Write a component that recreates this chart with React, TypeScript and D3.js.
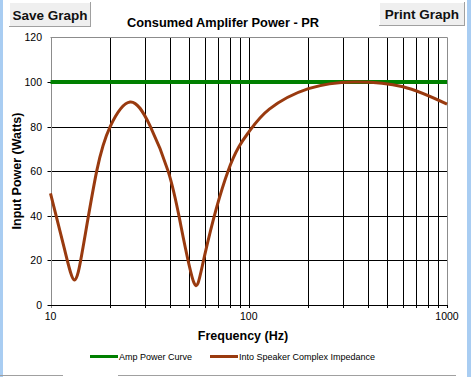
import React from "react";
import * as d3 from "d3";

const TITLE = "Consumed Amplifer Power - PR";
const X_LABEL = "Frequency (Hz)";
const Y_LABEL = "Input Power (Watts)";
const X_TICKS = [10, 100, 1000];
const X_GRID = [20, 30, 40, 50, 60, 70, 80, 90, 100, 200, 300, 400, 500, 600, 700, 800, 900];
const Y_TICKS = [0, 20, 40, 60, 80, 100, 120];

const AMP_FREQ = [10, 1000];
const AMP_POWER = [100, 100];

const SPK_FREQ = [10, 11.8, 13.2, 14.6, 17.1, 20, 25.2, 31.7, 39.2, 45, 52.9, 60, 78.6, 100, 127, 200, 340, 600, 1000];
const SPK_POWER = [50, 24.6, 11.2, 26, 60, 80, 91, 80.5, 60, 37.6, 10, 22.5, 60, 77.5, 87.8, 97, 100, 97.8, 90];

const LEGEND = ["Amp Power Curve", "Into Speaker Complex Impedance"];
const COLORS = ["#008000", "#993a0f"];

export default function App() {
  const W = 471, H = 377;
  const x = d3.scaleLog().domain([10, 1000]).range([50.5, 447]);
  const y = d3.scaleLinear().domain([0, 120]).range([305, 37.3]);
  const line = d3
    .line<[number, number]>()
    .x((d) => x(d[0]))
    .y((d) => y(d[1]))
    .curve(d3.curveNatural);
  const ampData = AMP_FREQ.map((f, i) => [f, AMP_POWER[i]] as [number, number]);
  const spkData = SPK_FREQ.map((f, i) => [f, SPK_POWER[i]] as [number, number]);
  const font = "Arial, 'Liberation Sans', sans-serif";
  const x0 = x(10), x1 = x(1000), yTop = y(120), yBot = y(0);

  const Button = ({ bx, by, bw, bh, label }: any) => (
    <g>
      <rect x={bx} y={by} width={bw} height={bh} fill="#efefef" />
      <line x1={bx} y1={by + 0.5} x2={bx + bw} y2={by + 0.5} stroke="#ffffff" />
      <line x1={bx + 0.5} y1={by} x2={bx + 0.5} y2={by + bh} stroke="#ffffff" />
      <line x1={bx} y1={by + bh - 0.5} x2={bx + bw} y2={by + bh - 0.5} stroke="#a0a0a0" />
      <line x1={bx + bw - 0.5} y1={by} x2={bx + bw - 0.5} y2={by + bh} stroke="#a0a0a0" />
      <text x={bx + bw / 2} y={by + bh / 2 + 5} textAnchor="middle" fontFamily={font} fontWeight="bold" fontSize={13.5} fill="#111">
        {label}
      </text>
    </g>
  );

  return (
    <svg width={W} height={H} style={{ position: "absolute", left: 0, top: 0, background: "#fff" }}>
      <rect x={0} y={0} width={W} height={H} fill="#ffffff" />
      {/* window borders */}
      <rect x={0} y={0} width={3} height={H} fill="#a9cdf2" />
      <rect x={467} y={0} width={4} height={H} fill="#a9cdf2" />
      <line x1={0} y1={375.5} x2={63} y2={375.5} stroke="#a0a0a0" />
      <line x1={118} y1={375.5} x2={456} y2={375.5} stroke="#a0a0a0" />

      {/* grid */}
      {X_GRID.map((f) => (
        <line key={"gx" + f} x1={Math.round(x(f)) + 0.5} x2={Math.round(x(f)) + 0.5} y1={yTop} y2={yBot + 3} stroke="#000" strokeWidth={1} />
      ))}
      {Y_TICKS.filter((v) => v > 0 && v < 120).map((v) => (
        <line key={"gy" + v} x1={x0 - 3} x2={x1} y1={Math.round(y(v)) + 0.5} y2={Math.round(y(v)) + 0.5} stroke="#000" strokeWidth={1} />
      ))}
      {/* frame */}
      <line x1={x0} x2={x1} y1={Math.round(yTop) + 0.5} y2={Math.round(yTop) + 0.5} stroke="#8c8c8c" />
      <line x1={Math.round(x1) + 0.5} x2={Math.round(x1) + 0.5} y1={yTop} y2={yBot} stroke="#8c8c8c" />
      <line x1={Math.round(x0) + 0.5} x2={Math.round(x0) + 0.5} y1={yTop} y2={yBot + 3} stroke="#8c8c8c" />
      <line x1={Math.round(x1) + 0.5} x2={Math.round(x1) + 0.5} y1={yBot} y2={yBot + 3} stroke="#000" />
      <line x1={x0 - 3} x2={x1} y1={Math.round(yBot) + 0.5} y2={Math.round(yBot) + 0.5} stroke="#000" />

      {/* y tick labels */}
      {Y_TICKS.map((v) => (
        <text key={"yl" + v} x={42} y={y(v) + 4} textAnchor="end" fontFamily={font} fontSize={10.5} fill="#000">
          {v}
        </text>
      ))}
      {/* x tick labels */}
      {X_TICKS.map((f) => (
        <text key={"xl" + f} x={x(f)} y={320} textAnchor="middle" fontFamily={font} fontSize={10.5} fill="#000">
          {f}
        </text>
      ))}

      {/* series */}
      <path d={line(ampData) || ""} fill="none" stroke={COLORS[0]} strokeWidth={4} />
      <path d={line(spkData) || ""} fill="none" stroke={COLORS[1]} strokeWidth={3} strokeLinejoin="round" />

      {/* titles */}
      <text x={223} y={27} textAnchor="middle" fontFamily={font} fontWeight="bold" fontSize={12.8} fill="#000">
        {TITLE}
      </text>
      <text x={243} y={340} textAnchor="middle" fontFamily={font} fontWeight="bold" fontSize={12.5} fill="#000">
        {X_LABEL}
      </text>
      <text transform={`translate(21,171) rotate(-90)`} textAnchor="middle" fontFamily={font} fontWeight="bold" fontSize={12.5} fill="#000">
        {Y_LABEL}
      </text>

      {/* legend */}
      <line x1={90} x2={118} y1={356.5} y2={356.5} stroke={COLORS[0]} strokeWidth={3} />
      <text x={119} y={360} fontFamily={font} fontSize={9} fill="#000">{LEGEND[0]}</text>
      <line x1={210} x2={238} y1={356.5} y2={356.5} stroke={COLORS[1]} strokeWidth={3} />
      <text x={239} y={360} fontFamily={font} fontSize={9} fill="#000">{LEGEND[1]}</text>

      <Button bx={9} by={2} bw={82} bh={25} label="Save Graph" />
      <Button bx={379} by={2} bw={86} bh={24} label="Print Graph" />
    </svg>
  );
}
